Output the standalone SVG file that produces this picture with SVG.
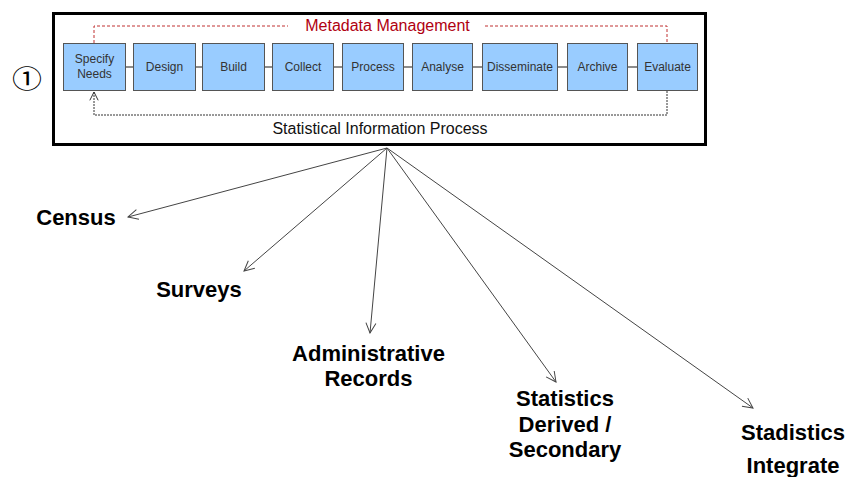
<svg xmlns="http://www.w3.org/2000/svg" width="851" height="477" viewBox="0 0 851 477">
<defs>
<style>
.step rect{fill:#99ccff;stroke:#555;stroke-width:1}
.step text{font-family:"Liberation Sans",Arial,sans-serif;font-size:12px;fill:#333;text-anchor:middle}
.lbl{font-family:"Liberation Sans",Arial,sans-serif;font-size:22px;font-weight:bold;fill:#000;text-anchor:middle}
.arr{stroke:#444;stroke-width:1;fill:none;marker-end:url(#open)}
.link{stroke:#666;stroke-width:1.5}
</style>
<marker id="open" viewBox="0 0 12 12" refX="11" refY="6" markerWidth="12" markerHeight="12" markerUnits="userSpaceOnUse" orient="auto">
<path d="M1,1 L11,6 L1,11" fill="none" stroke="#444" stroke-width="1"/>
</marker>
<marker id="openS" viewBox="0 0 12 12" refX="11" refY="6" markerWidth="10" markerHeight="10" markerUnits="userSpaceOnUse" orient="auto">
<path d="M1,1 L11,6 L1,11" fill="none" stroke="#333" stroke-width="1.2"/>
</marker>
</defs>
<rect width="851" height="477" fill="#fff"/>
<text x="27" y="89" font-family="'Noto Sans CJK JP',sans-serif" font-size="30" text-anchor="middle" fill="#000" transform="translate(27,0) scale(1,0.85) translate(-27,14)">①</text>
<g id="frame">
<rect x="53.5" y="13.5" width="652" height="131" fill="#fff" stroke="#000" stroke-width="3"/>
<text x="380" y="134" font-family="'Liberation Sans',Arial,sans-serif" font-size="16" text-anchor="middle" fill="#111">Statistical Information Process</text>
<text x="387.5" y="31" font-family="'Liberation Sans',Arial,sans-serif" font-size="16" text-anchor="middle" fill="#b00010">Metadata Management</text>
</g>
<g id="connectors">
<path d="M94,43 V26 H288 M485,26 H667 V43" fill="none" stroke="#c03030" stroke-width="1" stroke-dasharray="3,2"/>
<path d="M667,91 V115 H94 V92" fill="none" stroke="#333" stroke-width="1" stroke-dasharray="2,1" marker-end="url(#openS)"/>
<line class="link" x1="126" y1="67" x2="133" y2="67"/>
<line class="link" x1="196" y1="67" x2="202" y2="67"/>
<line class="link" x1="265" y1="67" x2="272" y2="67"/>
<line class="link" x1="334" y1="67" x2="342" y2="67"/>
<line class="link" x1="404" y1="67" x2="412" y2="67"/>
<line class="link" x1="473" y1="67" x2="482" y2="67"/>
<line class="link" x1="558" y1="67" x2="567" y2="67"/>
<line class="link" x1="628" y1="67" x2="637" y2="67"/>
<line class="arr" x1="387" y1="148" x2="128" y2="217"/>
<line class="arr" x1="387" y1="148" x2="244" y2="271"/>
<line class="arr" x1="387" y1="148" x2="370" y2="333"/>
<line class="arr" x1="387" y1="148" x2="556" y2="382"/>
<line class="arr" x1="387" y1="148" x2="753" y2="408"/>
</g>
<g id="specify" class="step"><rect x="63.5" y="43.5" width="62" height="47"/><text x="94.5" y="63">Specify</text><text x="94.5" y="78">Needs</text></g>
<g id="design" class="step"><rect x="133.5" y="43.5" width="62" height="47"/><text x="164.5" y="71">Design</text></g>
<g id="build" class="step"><rect x="202.5" y="43.5" width="62" height="47"/><text x="233.5" y="71">Build</text></g>
<g id="collect" class="step"><rect x="272.5" y="43.5" width="61" height="47"/><text x="303" y="71">Collect</text></g>
<g id="process" class="step"><rect x="342.5" y="43.5" width="61" height="47"/><text x="373" y="71">Process</text></g>
<g id="analyse" class="step"><rect x="412.5" y="43.5" width="60" height="47"/><text x="442.5" y="71">Analyse</text></g>
<g id="disseminate" class="step"><rect x="482.5" y="43.5" width="75" height="47"/><text x="520" y="71">Disseminate</text></g>
<g id="archive" class="step"><rect x="567.5" y="43.5" width="60" height="47"/><text x="597.5" y="71">Archive</text></g>
<g id="evaluate" class="step"><rect x="637.5" y="43.5" width="60" height="47"/><text x="667.5" y="71">Evaluate</text></g>
<g id="census"><text class="lbl" x="76" y="225">Census</text></g>
<g id="surveys"><text class="lbl" x="199" y="297">Surveys</text></g>
<g id="admin"><text class="lbl" x="368.5" y="361">Administrative</text><text class="lbl" x="368.5" y="386">Records</text></g>
<g id="derived"><text class="lbl" x="565" y="406">Statistics</text><text class="lbl" x="565" y="432">Derived /</text><text class="lbl" x="565" y="457">Secondary</text></g>
<g id="integrate"><text class="lbl" x="793" y="440">Stadistics</text><text class="lbl" x="793" y="473">Integrate</text></g>
</svg>
